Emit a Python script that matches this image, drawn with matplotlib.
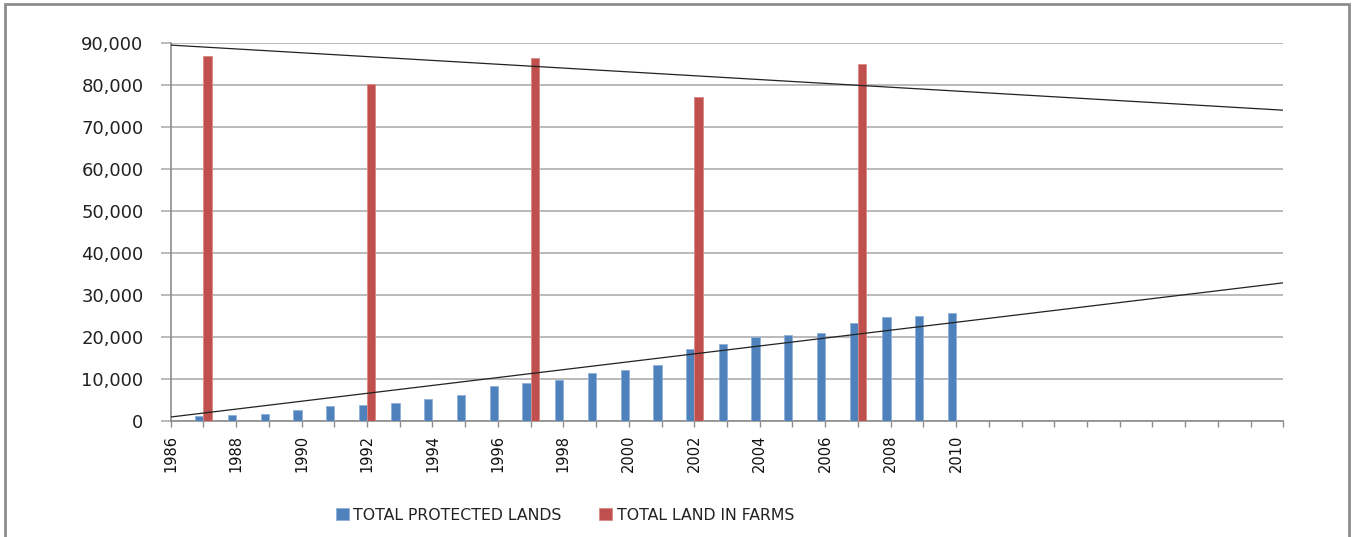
import matplotlib
matplotlib.use("Agg")
import matplotlib.pyplot as plt
from matplotlib.patches import Rectangle
from matplotlib.ticker import FuncFormatter, MultipleLocator
import numpy as np

# ---- data ----
all_years = list(range(1986, 2021))
label_years = list(range(1986, 2011, 2))

protected_years = list(range(1987, 2011))
protected = [1100, 1350, 1600, 2550, 3650, 3700, 4200, 5150, 6250, 8400,
             8950, 9700, 11500, 12050, 13250, 17050, 18450, 20000, 20450,
             20850, 23250, 24750, 25000, 25700]

farm_years = [1987, 1992, 1997, 2002, 2007]
farms = [87000, 80300, 86500, 77100, 85000]

trend_years = [1986, 2020]
protected_trend = [950, 32900]
farms_trend = [89500, 74000]

series_names = ["TOTAL PROTECTED LANDS", "TOTAL LAND IN FARMS"]
blue = "#4F81BD"
red = "#C0504D"

W, H = 1352, 537
fig = plt.figure(figsize=(W / 100, H / 100), dpi=100)
fig.patch.set_facecolor("white")

# outer chart frame
fig.patches.append(Rectangle((5 / W, -0.05), (1349 - 5) / W, 1.05 - 4 / H,
                             transform=fig.transFigure, fill=False,
                             edgecolor="#8C8C8C", linewidth=2, clip_on=False))

ax = fig.add_axes([170.7 / W, 1 - 421 / H, (1283.3 - 170.7) / W, (421 - 43) / H])

bw = 0.254
ax.bar(np.array(protected_years) - bw / 2, protected, width=bw, color=blue,
       edgecolor="#8FB0DA", linewidth=0.6, label=series_names[0], zorder=3)
ax.bar(np.array(farm_years) + bw / 2, farms, width=bw, color=red,
       edgecolor="#D98886", linewidth=0.6, label=series_names[1], zorder=3)

ax.plot(trend_years, protected_trend, color="#222222", lw=0.9, zorder=4)
ax.plot(trend_years, farms_trend, color="#222222", lw=0.9, zorder=4)

ax.set_xlim(1986, 2020)
ax.set_ylim(0, 90000)
ax.yaxis.set_major_locator(MultipleLocator(10000))
ax.yaxis.set_major_formatter(FuncFormatter(lambda v, p: f"{int(v):,}"))
ax.grid(axis="y", color="#B4B4B4", lw=1.3, zorder=0)
ax.set_axisbelow(True)

ax.set_xticks(all_years)
ax.set_xticklabels([str(y) if y in label_years else "" for y in all_years],
                   rotation=90, fontsize=10.5, color="#111111")
ax.tick_params(axis="x", length=4, width=1, color="#8C8C8C", pad=6, direction="out")
ax.tick_params(axis="y", length=7.5, width=1.3, color="#B4B4B4", pad=12,
               labelsize=13, labelcolor="#222222")

for s in ["top", "right"]:
    ax.spines[s].set_visible(False)
ax.spines["left"].set_color("#8C8C8C")
ax.spines["bottom"].set_color("#8C8C8C")
ax.spines["left"].set_linewidth(1.2)
ax.spines["bottom"].set_linewidth(1.2)

leg = fig.legend(loc="center", bbox_to_anchor=(565 / W, 1 - 515 / H), ncol=2,
                 frameon=False, fontsize=11.3, handlelength=0.8, handleheight=0.8,
                 handletextpad=0.3, columnspacing=2.4, labelcolor="#222222")

fig.savefig("out.png", dpi=100, facecolor="white")
